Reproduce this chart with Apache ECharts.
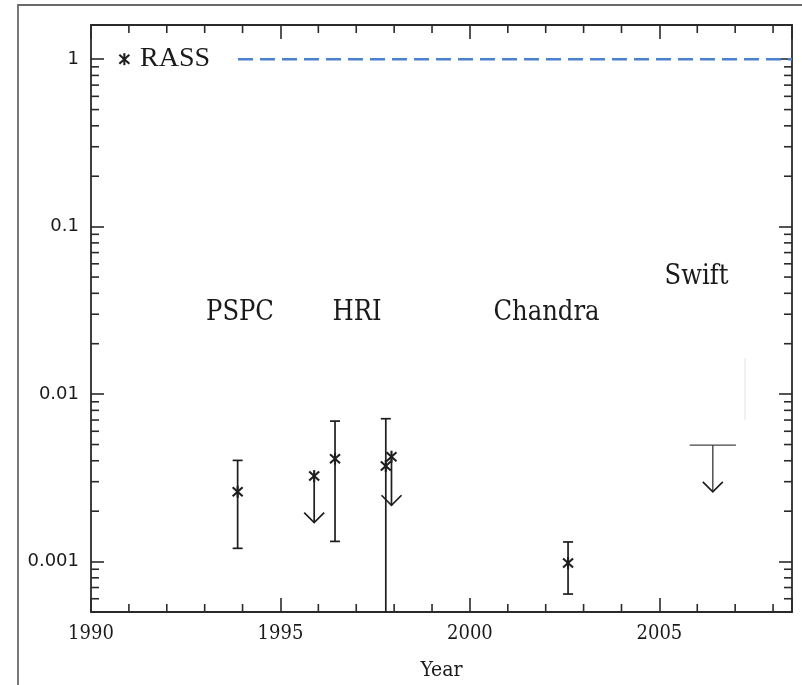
<!DOCTYPE html>
<html><head><meta charset="utf-8">
<script src="https://cdn.jsdelivr.net/npm/echarts@6/dist/echarts.min.js"></script>
<style>html,body{margin:0;padding:0;background:#fff}#c{width:802px;height:685px}</style>
</head><body><div id="c"></div>
<script>
// ---- data ----
const xTickYears = [1990, 1995, 2000, 2005];
const xMinorYears = [1991,1992,1993,1994,1996,1997,1998,1999,2001,2002,2003,2004,2006,2007,2008];
const yTickValues = [0.001, 0.01, 0.1, 1];
const yTickLabels = ['0.001', '0.01', '0.1', '1'];
const yMinorTicks = [0.0005,0.0006,0.0007,0.0008,0.0009,
  0.002,0.003,0.004,0.005,0.006,0.007,0.008,0.009,
  0.02,0.03,0.04,0.05,0.06,0.07,0.08,0.09,
  0.2,0.3,0.4,0.5,0.6,0.7,0.8,0.9];
// detections: [year, flux, lower, upper]
const detections = [
  [1993.87, 0.00261, 0.00120, 0.00402],
  [1996.44, 0.00411, 0.00132, 0.00690],
  [1997.78, 0.00372, 0.00030, 0.00713],
  [2002.59, 0.00098, 0.00064, 0.00131]
];
// upper limits with marker: [year, flux, arrowTip]
const upperLimits = [
  [1995.89, 0.00324, 0.00171],
  [1997.93, 0.00423, 0.00217]
];
// Swift upper limit: [startYear, endYear, limit, arrowTip]
const swiftLimit = [[2005.80, 2007.02, 0.00496, 0.00261]];
const rassPoint = [[1990.88, 1]];
const rassLevel = [[1993.88, 1], [2008.5, 1]];
const instrumentNames = ['PSPC', 'HRI', 'Chandra', 'Swift'];

// ---- chart ----
const X_MIN = 1990, X_MAX = 2008.5, Y_MIN = 0.0005, Y_MAX = 1.6;
const INK = '#1e1e1e';
const SERIF_C = '"DejaVu Serif Condensed", "DejaVu Serif", serif';

function asterisk(c) {
  const x = c[0], y = c[1];
  const s = {stroke: INK, lineWidth: 2.1};
  return [
    {type: 'line', shape: {x1: x, y1: y - 6, x2: x, y2: y + 6}, style: s},
    {type: 'line', shape: {x1: x - 5, y1: y - 4.5, x2: x + 5, y2: y + 4.5}, style: s},
    {type: 'line', shape: {x1: x - 5, y1: y + 4.5, x2: x + 5, y2: y - 4.5}, style: s}
  ];
}
function arrowHead(tip) {
  return {type: 'polyline', shape: {points: [[tip[0] - 10, tip[1] - 10], tip, [tip[0] + 10, tip[1] - 10]]},
    style: {stroke: INK, lineWidth: 1.7, fill: null}};
}
const lineStyle = {stroke: INK, lineWidth: 1.7};

const chart = echarts.init(document.getElementById('c'), null, {renderer: 'canvas'});
chart.setOption({
  animation: false,
  backgroundColor: '#fff',
  grid: {left: 91, right: 10, top: 25, bottom: 73, show: true, borderColor: '#2a2a2a', borderWidth: 1.8,
         backgroundColor: 'transparent', outerBoundsMode: 'none', containLabel: false},
  xAxis: [
    {type: 'value', position: 'bottom', min: X_MIN, max: X_MAX, interval: 5,
     axisLine: {show: false}, splitLine: {show: false},
     axisTick: {inside: true, length: 14, lineStyle: {color: '#2a2a2a', width: 1.6}},
     axisLabel: {margin: 12, color: '#1a1a1a', fontSize: 20, fontFamily: SERIF_C,
                 formatter: v => xTickYears.includes(v) ? String(v) : ''},
     name: 'Year', nameLocation: 'middle', nameGap: 48,
     nameTextStyle: {color: '#1a1a1a', fontSize: 21, fontFamily: SERIF_C}},
    {type: 'value', position: 'top', min: X_MIN, max: X_MAX, interval: 5,
     axisLine: {show: false}, splitLine: {show: false}, axisLabel: {show: false},
     axisTick: {inside: true, length: 14, lineStyle: {color: '#2a2a2a', width: 1.6}}}
  ],
  yAxis: [
    {type: 'log', logBase: 10, position: 'left', min: Y_MIN, max: Y_MAX, splitNumber: 4,
     axisLine: {show: false}, splitLine: {show: false}, minorTick: {show: false},
     axisTick: {inside: true, length: 13, lineStyle: {color: '#2a2a2a', width: 1.6}},
     axisLabel: {margin: 12, color: '#1a1a1a', fontSize: 18, fontFamily: '"DejaVu Sans", sans-serif',
       formatter: v => {
         const i = yTickValues.findIndex(t => Math.abs(Math.log10(t) - Math.log10(v)) < 1e-6);
         return i >= 0 ? yTickLabels[i] : '';
       }}},
    {type: 'log', logBase: 10, position: 'right', min: Y_MIN, max: Y_MAX, splitNumber: 4,
     axisLine: {show: false}, splitLine: {show: false}, axisLabel: {show: false},
     axisTick: {inside: true, length: 13, lineStyle: {color: '#2a2a2a', width: 1.6}}}
  ],
  series: [
    { // minor ticks on x (bottom and top)
      type: 'custom', silent: true, clip: false, xAxisIndex: 0, yAxisIndex: 0,
      data: xMinorYears.map(y => [y, 1]),
      renderItem: (p, api) => {
        const b = api.coord([api.value(0), Y_MIN]), t = api.coord([api.value(0), Y_MAX]);
        return {type: 'group', children: [
          {type: 'line', shape: {x1: b[0], y1: b[1], x2: b[0], y2: b[1] - 8}, style: {stroke: '#2a2a2a', lineWidth: 1.6}},
          {type: 'line', shape: {x1: t[0], y1: t[1], x2: t[0], y2: t[1] + 8}, style: {stroke: '#2a2a2a', lineWidth: 1.6}}
        ]};
      }
    },
    { // minor ticks on y (left and right)
      type: 'custom', silent: true, clip: false, xAxisIndex: 0, yAxisIndex: 0,
      data: yMinorTicks.map(v => [2000, v]),
      renderItem: (p, api) => {
        const l = api.coord([X_MIN, api.value(1)]), r = api.coord([X_MAX, api.value(1)]);
        return {type: 'group', children: [
          {type: 'line', shape: {x1: l[0], y1: l[1], x2: l[0] + 8, y2: l[1]}, style: {stroke: '#2a2a2a', lineWidth: 1.6}},
          {type: 'line', shape: {x1: r[0], y1: r[1], x2: r[0] - 8, y2: r[1]}, style: {stroke: '#2a2a2a', lineWidth: 1.6}}
        ]};
      }
    },
    { // RASS level
      type: 'line', data: rassLevel, symbol: 'none', silent: true,
      lineStyle: {color: '#4a80cc', width: 2.6, type: [15, 7]}
    },
    { // detections with error bars
      type: 'custom', clip: true, data: detections,
      renderItem: (p, api) => {
        const x = api.value(0);
        const c = api.coord([x, api.value(1)]), lo = api.coord([x, api.value(2)]), hi = api.coord([x, api.value(3)]);
        return {type: 'group', children: [
          {type: 'line', shape: {x1: lo[0], y1: lo[1], x2: hi[0], y2: hi[1]}, style: lineStyle},
          {type: 'line', shape: {x1: lo[0] - 5, y1: lo[1], x2: lo[0] + 5, y2: lo[1]}, style: lineStyle},
          {type: 'line', shape: {x1: hi[0] - 5, y1: hi[1], x2: hi[0] + 5, y2: hi[1]}, style: lineStyle}
        ].concat(asterisk(c))};
      }
    },
    { // upper limits with marker
      type: 'custom', clip: true, data: upperLimits,
      renderItem: (p, api) => {
        const x = api.value(0);
        const c = api.coord([x, api.value(1)]), tip = api.coord([x, api.value(2)]);
        return {type: 'group', children: [
          {type: 'line', shape: {x1: c[0], y1: c[1], x2: tip[0], y2: tip[1]}, style: lineStyle},
          arrowHead(tip)
        ].concat(asterisk(c))};
      }
    },
    { // Swift upper limit
      type: 'custom', clip: true, data: swiftLimit,
      renderItem: (p, api) => {
        const a = api.coord([api.value(0), api.value(2)]), b = api.coord([api.value(1), api.value(2)]);
        const mx = (api.value(0) + api.value(1)) / 2;
        const m = api.coord([mx, api.value(2)]), tip = api.coord([mx, api.value(3)]);
        return {type: 'group', children: [
          {type: 'line', shape: {x1: a[0], y1: a[1], x2: b[0], y2: b[1]}, style: {stroke: '#444', lineWidth: 1.4}},
          {type: 'line', shape: {x1: m[0], y1: m[1], x2: tip[0], y2: tip[1]}, style: {stroke: '#444', lineWidth: 1.4}},
          arrowHead(tip)
        ]};
      }
    },
    { // RASS legend marker
      type: 'custom', clip: false, data: rassPoint,
      renderItem: (p, api) => ({type: 'group', children: asterisk(api.coord([api.value(0), api.value(1)]))})
    }
  ],
  graphic: [
    {type: 'polyline', silent: true, shape: {points: [[18, 690], [18, 5], [805, 5]]},
     style: {stroke: '#6a6a6a', lineWidth: 1.8, fill: null}},
    {type: 'line', silent: true, shape: {x1: 745, y1: 358, x2: 745, y2: 420}, style: {stroke: '#e2e2e2', lineWidth: 1}},
    {type: 'text', silent: true, style: {text: 'RASS', x: 140, y: 59, textAlign: 'left', textVerticalAlign: 'middle',
      fill: '#1a1a1a', font: '28px "Liberation Serif", serif'}},
    {type: 'text', silent: true, style: {text: instrumentNames[0], x: 240, y: 313, textAlign: 'center', textVerticalAlign: 'middle',
      fill: '#1a1a1a', font: '27px ' + SERIF_C}},
    {type: 'text', silent: true, style: {text: instrumentNames[1], x: 357, y: 313, textAlign: 'center', textVerticalAlign: 'middle',
      fill: '#1a1a1a', font: '27px ' + SERIF_C}},
    {type: 'text', silent: true, style: {text: instrumentNames[2], x: 546.5, y: 313, textAlign: 'center', textVerticalAlign: 'middle',
      fill: '#1a1a1a', font: '27px ' + SERIF_C}},
    {type: 'text', silent: true, style: {text: instrumentNames[3], x: 696.5, y: 277, textAlign: 'center', textVerticalAlign: 'middle',
      fill: '#1a1a1a', font: '27px ' + SERIF_C}}
  ]
});
</script></body></html>
